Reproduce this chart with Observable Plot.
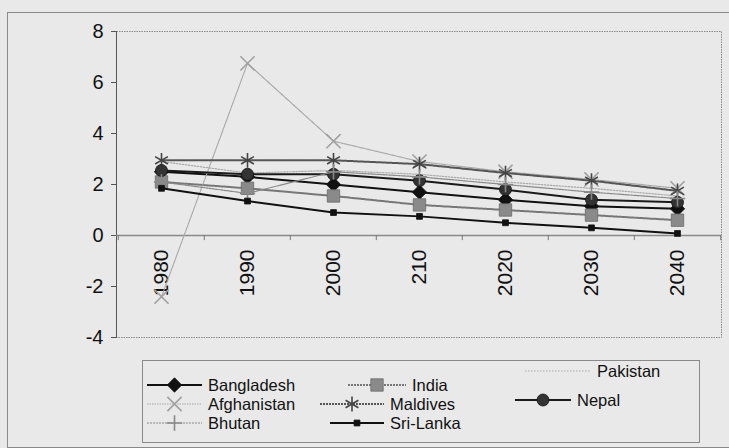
<!DOCTYPE html>
<html><head><meta charset="utf-8">
<script src="https://cdn.jsdelivr.net/npm/d3@7"></script>
<script src="https://cdn.jsdelivr.net/npm/@observablehq/plot@0.6"></script>
<style>
html,body{margin:0;padding:0;background:#e9e9e9;}
#wrap{position:relative;width:729px;height:448px;overflow:hidden;font-family:"Liberation Sans",Arial,sans-serif;}
#frame{position:absolute;left:7px;top:12px;width:760px;height:434px;border:1px solid #8a8a8a;}
#chart{position:absolute;left:0;top:0;}
#legend{position:absolute;left:0;top:0;}
</style></head><body>
<div id="wrap"><div id="frame"></div><div id="chart"></div><svg id="legend" width="729" height="448"></svg></div>
<script>
// ---- data ----
const categories = ["1980", "1990", "2000", "210", "2020", "2030", "2040"];
const yTicks = [-4, -2, 0, 2, 4, 6, 8];
const seriesNames = ["Bangladesh", "India", "Pakistan", "Afghanistan", "Maldives", "Nepal", "Bhutan", "Sri-Lanka"];
const bangladesh  = [2.50, 2.30, 2.00, 1.70, 1.40, 1.15, 1.05];
const india       = [2.10, 1.85, 1.55, 1.20, 1.00, 0.80, 0.60];
const pakistan    = [2.90, 2.45, 2.55, 2.40, 2.10, 1.85, 1.55];
const afghanistan = [-2.40, 6.75, 3.70, 2.90, 2.50, 2.20, 1.85];
const maldives    = [2.95, 2.95, 2.95, 2.80, 2.45, 2.15, 1.75];
const nepal       = [2.55, 2.40, 2.40, 2.15, 1.80, 1.40, 1.30];
const bhutan      = [2.10, 1.65, 2.50, 2.30, 2.00, 1.70, 1.45];
const sriLanka    = [1.85, 1.35, 0.90, 0.75, 0.50, 0.30, 0.08];
const seriesValues = [bangladesh, india, pakistan, afghanistan, maldives, nepal, bhutan, sriLanka];

// ---- styles ----
const style = {
  "Bangladesh": {stroke:"#111", width:2, dash:null, symbol:"diamond2", r:6.5, fill:"#111", mstroke:"#111"},
  "India":      {stroke:"#777", width:2, dash:"2,1", symbol:"square", r:7, fill:"#8a8a8a", mstroke:"#6a6a6a"},
  "Pakistan":   {stroke:"#aaa", width:1.2, dash:"1.5,1.5", symbol:null},
  "Afghanistan":{stroke:"#a8a8a8", width:1.2, dash:"1.5,1", symbol:"times", r:6.5, fill:"none", mstroke:"#a0a0a0"},
  "Maldives":   {stroke:"#555", width:2, dash:"2,1", symbol:"asterisk", r:7, fill:"none", mstroke:"#444"},
  "Nepal":      {stroke:"#1a1a1a", width:2, dash:null, symbol:"circle", r:6, fill:"#333", mstroke:"#111"},
  "Bhutan":     {stroke:"#888", width:1.2, dash:"2,1", symbol:"plus", r:5, fill:"none", mstroke:"#888"},
  "Sri-Lanka":  {stroke:"#111", width:2, dash:null, symbol:"square", r:3.3, fill:"#111", mstroke:"#111"}
};

const rows = seriesNames.flatMap((name, si) =>
  categories.map((c, i) => ({series: name, cat: c, value: seriesValues[si][i]})));

const plotW = 729, mL = 116, mR = 8;
const step = (plotW - mL - mR) / categories.length;

const marks = [
  Plot.frame({stroke:"#8a8a8a", strokeDasharray:"1.5,1"}),
  Plot.frame({anchor:"left", stroke:"#555"}),
  Plot.axisY({ticks: yTicks, tickSize: 5, tickPadding: 8, fontSize: 20, label: null, tickFormat: d => String(d), stroke:"#555", fill:"#111"}),
  Plot.ruleY([0], {stroke:"#8a8a8a", strokeWidth:1.5}),
  Plot.ruleX(categories, {x: d => d, y1: 0, y2: -0.2, dx: -step/2, stroke:"#777"}),
  Plot.ruleX(categories.slice(-1), {x: d => d, y1: 0, y2: -0.2, dx: step/2, stroke:"#777"}),
  Plot.text(categories, {x: d => d, y: 0, text: d => d, rotate: -90, textAnchor: "end", dy: 14, fontSize: 21, fill:"#111"})
];
for (const name of seriesNames) {
  const s = style[name];
  const data = rows.filter(r => r.series === name);
  marks.push(Plot.line(data, {x:"cat", y:"value", stroke:s.stroke, strokeWidth:s.width, strokeDasharray:s.dash}));
  if (s.symbol) {
    const stroked = s.fill === "none";
    marks.push(Plot.dot(data, {x:"cat", y:"value", symbol: s.symbol, r: s.r,
      fill: s.fill, stroke: s.mstroke, strokeWidth: stroked ? 1.6 : 0.8}));
  }
}

const chart = Plot.plot({
  width: plotW, height: 448,
  marginLeft: mL, marginRight: mR, marginTop: 31, marginBottom: 111,
  x: {type:"point", domain: categories, padding: 0.5, axis: null},
  y: {domain: [-4, 8], axis: null},
  style: {background:"transparent", fontFamily:"'Liberation Sans', Arial, sans-serif"},
  marks
});
document.getElementById("chart").appendChild(chart);

// ---- legend ----
const legendItems = [
  {name:"Bangladesh", x:147, y:385, tx:208},
  {name:"India",      x:348, y:385, tx:412},
  {name:"Pakistan",   x:525, y:371, tx:597},
  {name:"Afghanistan",x:147, y:404, tx:208},
  {name:"Maldives",   x:320, y:404, tx:390},
  {name:"Nepal",      x:515, y:400, tx:577},
  {name:"Bhutan",     x:147, y:423, tx:208},
  {name:"Sri-Lanka",  x:330, y:423, tx:390}
];
const symMap = {diamond2: d3.symbolDiamond2, square: d3.symbolSquare, times: d3.symbolTimes,
  asterisk: d3.symbolAsterisk, circle: d3.symbolCircle, plus: d3.symbolPlus};
const lg = d3.select("#legend");
lg.append("rect").attr("x", 142.5).attr("y", 360.5).attr("width", 557).attr("height", 82)
  .attr("fill", "none").attr("stroke", "#8a8a8a");
for (const it of legendItems) {
  const s = style[it.name];
  const x2 = it.tx - 6;
  lg.append("line").attr("x1", it.x).attr("x2", x2).attr("y1", it.y).attr("y2", it.y)
    .attr("stroke", s.stroke).attr("stroke-width", s.width).attr("stroke-dasharray", s.dash);
  if (s.symbol) {
    const stroked = s.fill === "none";
    lg.append("path").attr("d", d3.symbol(symMap[s.symbol], Math.PI * s.r * s.r)())
      .attr("transform", `translate(${(it.x + x2) / 2},${it.y})`)
      .attr("fill", s.fill).attr("stroke", s.mstroke).attr("stroke-width", stroked ? 1.6 : 0.8);
  }
  lg.append("text").attr("x", it.tx).attr("y", it.y).attr("dy", "0.35em")
    .attr("font-size", 16.5).attr("fill", "#111").text(it.name);
}
</script>
</body></html>
